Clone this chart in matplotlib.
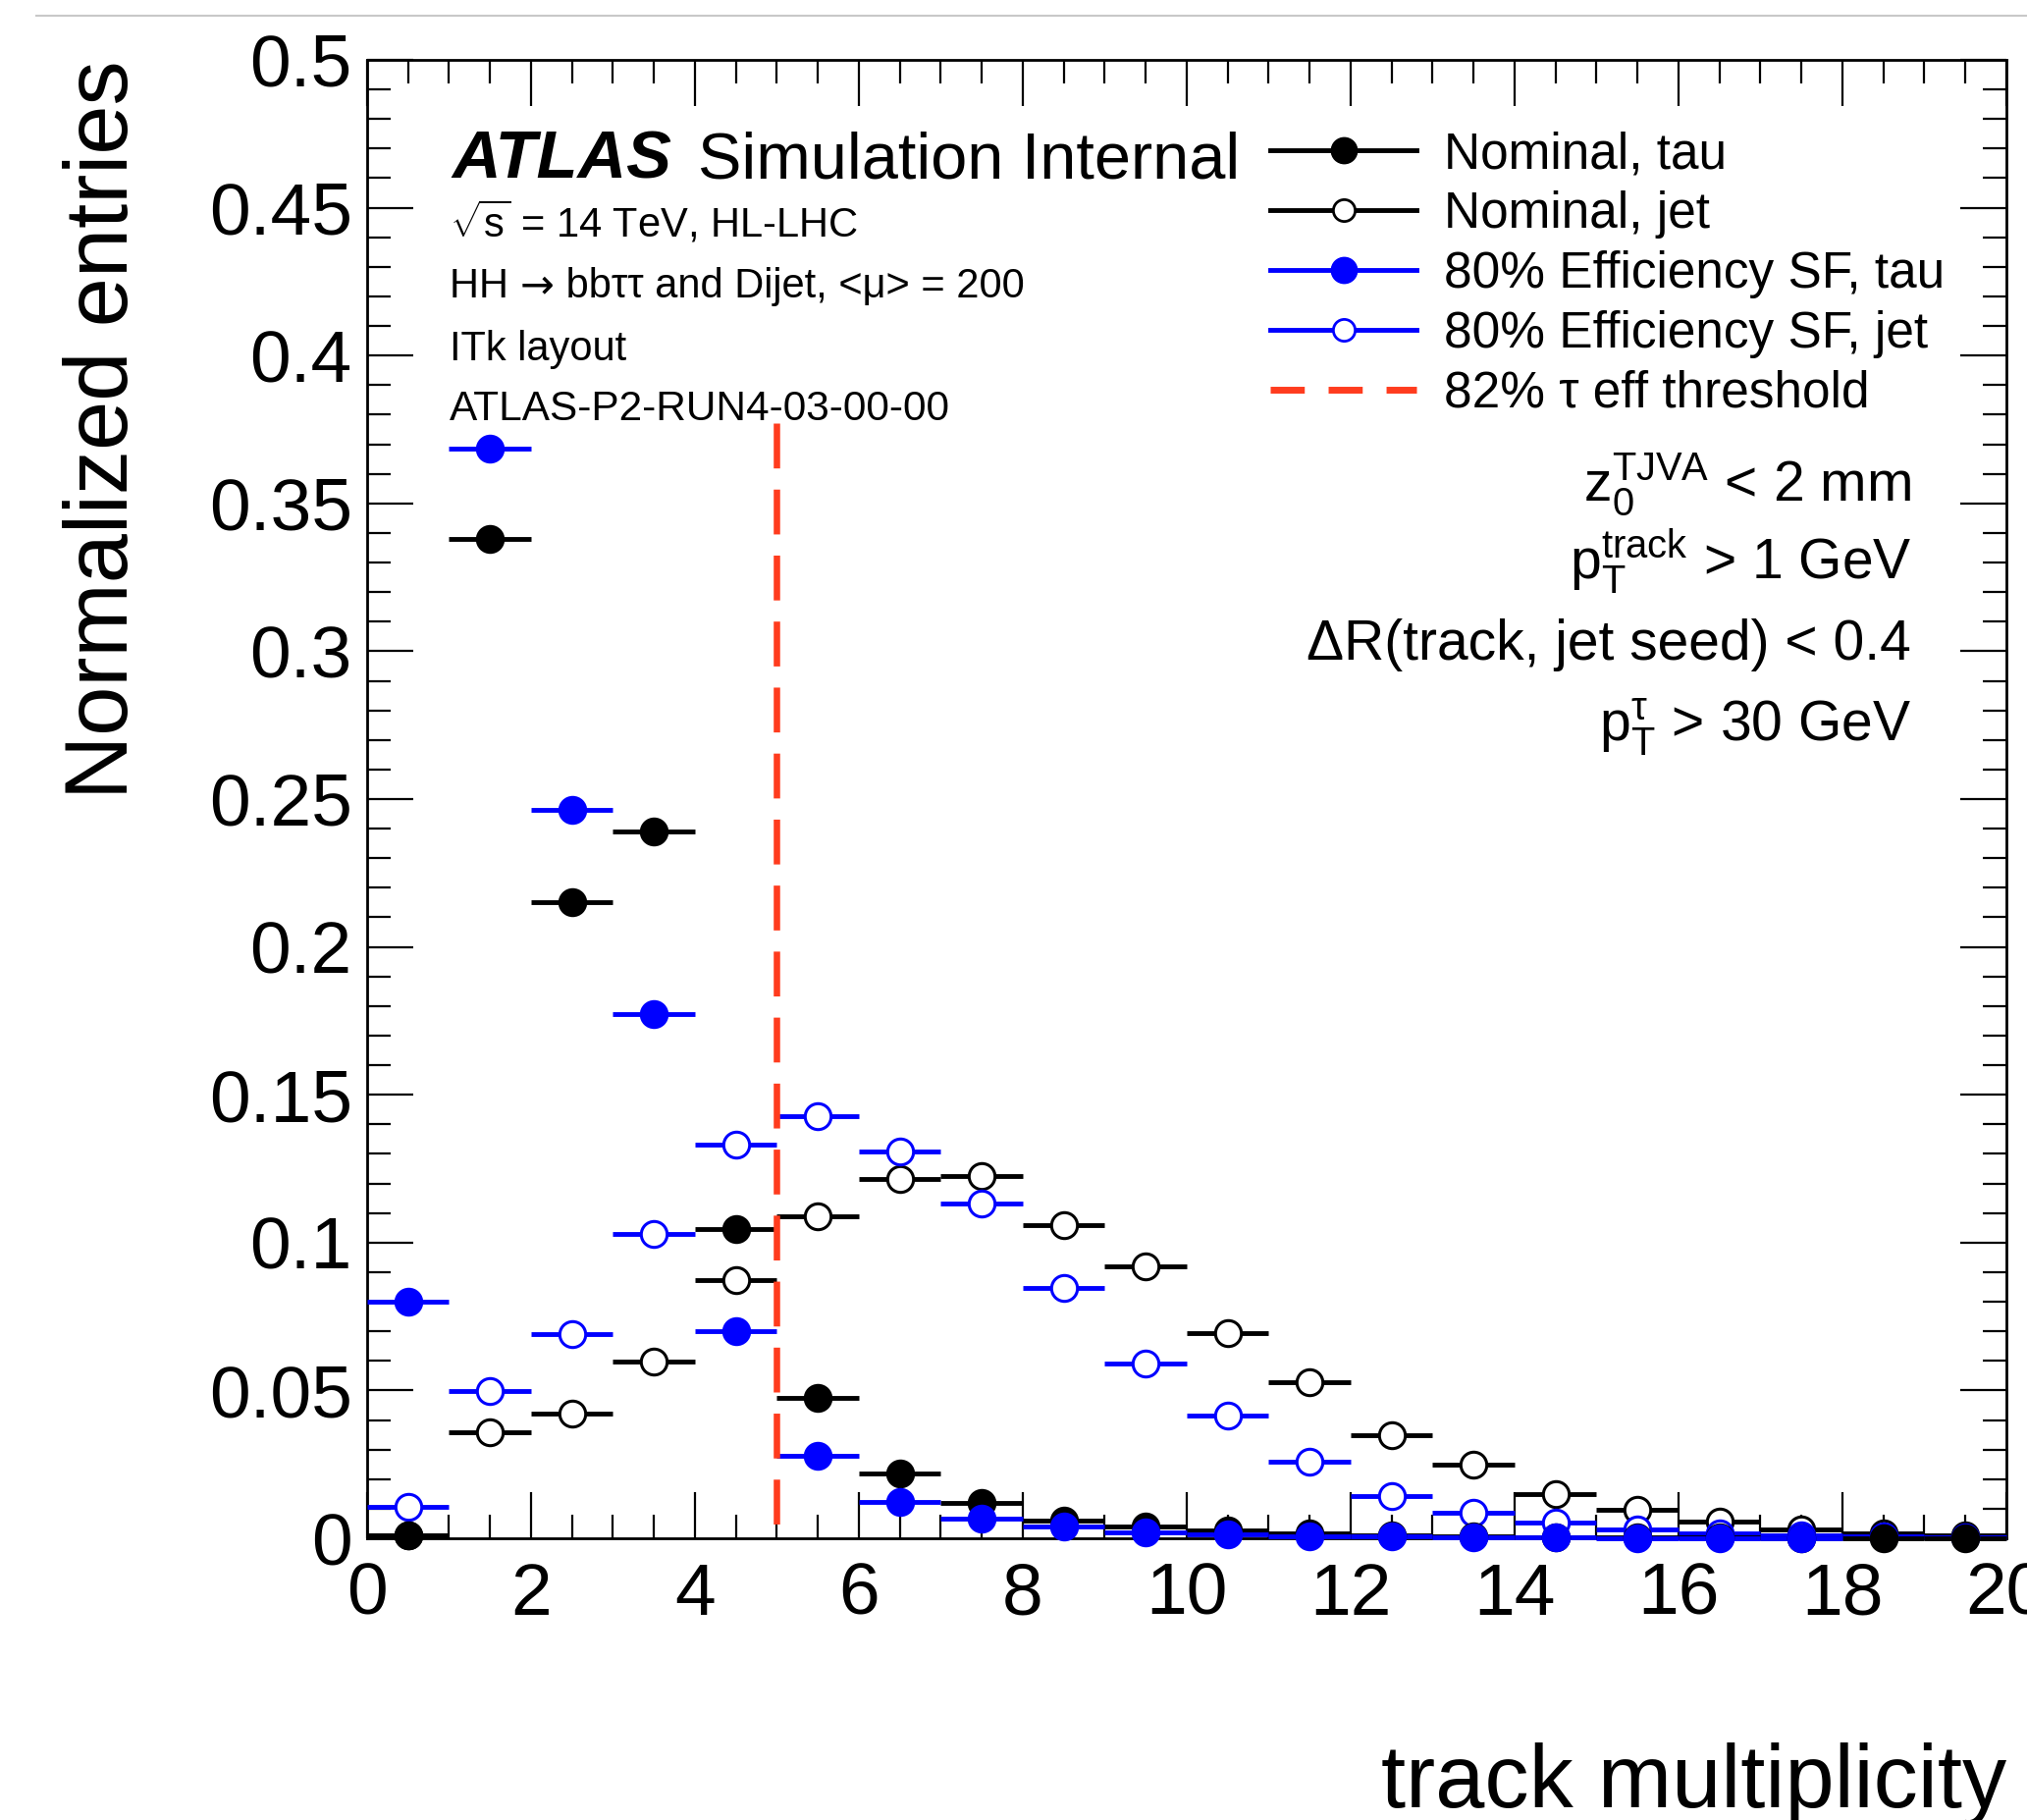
import numpy as np
import matplotlib
matplotlib.use('Agg')
import matplotlib.pyplot as plt
from matplotlib.lines import Line2D
from matplotlib.ticker import MultipleLocator, FuncFormatter

plt.rcParams['font.family'] = ['Liberation Sans', 'DejaVu Sans']
plt.rcParams['mathtext.fontset'] = 'custom'
plt.rcParams['mathtext.rm'] = 'Liberation Sans'
plt.rcParams['mathtext.it'] = 'Liberation Sans:italic'
plt.rcParams['mathtext.bf'] = 'Liberation Sans:bold'

# track multiplicity bins 0..20
bin_edges = np.arange(0, 21)
nominal_tau = [0.001, 0.338, 0.215, 0.239, 0.1045, 0.0476, 0.0219, 0.0118, 0.006, 0.004,
               0.0026, 0.0017, 0.001, 0.0006, 0.0004, 0.0003, 0.0002, 0.0001, 0.0001, 0.0001]
nominal_jet = [0.001, 0.0358, 0.042, 0.0599, 0.0874, 0.109, 0.1215, 0.1224, 0.1058, 0.0918,
               0.0695, 0.0529, 0.035, 0.0249, 0.0149, 0.0096, 0.0057, 0.003, 0.0017, 0.001]
sf_tau = [0.08, 0.3684, 0.2465, 0.1774, 0.07, 0.028, 0.0122, 0.0066, 0.004, 0.002,
          0.0013, 0.0008, 0.0005, 0.0003, 0.0002, 0.0001, 0.0001, 0.0001, 0.0, 0.0]
sf_jet = [0.0105, 0.0498, 0.069, 0.103, 0.1333, 0.1429, 0.1307, 0.1132, 0.0848, 0.059,
          0.0415, 0.0258, 0.0144, 0.0087, 0.0052, 0.003, 0.0017, 0.0009, 0.0005, 0.0003]
threshold_x = 5
threshold_top = 0.377

centers = 0.5 * (bin_edges[:-1] + bin_edges[1:])
half_w = 0.5 * np.diff(bin_edges)

red = '#ff3c1e'
blue = '#0000ff'

fig = plt.figure(figsize=(20.65, 18.54), dpi=100)
ax = fig.add_axes([0.1811, 0.1548, 0.8087, 0.8123])

series = {
    'Nominal, tau': (nominal_tau, 'k', 'k'),
    'Nominal, jet': (nominal_jet, 'k', 'white'),
    '80% Efficiency SF, tau': (sf_tau, blue, blue),
    '80% Efficiency SF, jet': (sf_jet, blue, 'white'),
}
# open markers underneath, filled ones on top
for lab in ['Nominal, jet', '80% Efficiency SF, jet', 'Nominal, tau', '80% Efficiency SF, tau']:
    vals, col, face = series[lab]
    vals = np.array(vals, dtype=float)
    keep = vals > 0  # empty bins are not drawn
    ax.errorbar(centers[keep], vals[keep], xerr=half_w[keep], fmt='o', color=col,
                mfc=face, mec=col, ms=19, mew=2.2, elinewidth=3.5, capsize=0,
                clip_on=False, zorder=3)

# dashed threshold, drawn from the top so the dash pattern starts there
ax.plot([threshold_x, threshold_x], [threshold_top, 0], color=red, lw=4.7,
        dashes=(7, 3.3), zorder=4)

ax.set_xlim(0, 20)
ax.set_ylim(0, 0.5)
ax.xaxis.set_major_locator(MultipleLocator(2))
ax.xaxis.set_minor_locator(MultipleLocator(0.5))
ax.yaxis.set_major_locator(MultipleLocator(0.05))
ax.yaxis.set_minor_locator(MultipleLocator(0.01))
ax.yaxis.set_major_formatter(FuncFormatter(lambda v, p: '%g' % round(v, 3)))
ax.tick_params(which='both', direction='in', top=True, right=True, width=1.6)
ax.tick_params(which='major', length=34, labelsize=54)
ax.tick_params(which='minor', length=17)
ax.tick_params(axis='x', pad=17)
ax.tick_params(axis='y', pad=11)
for s in ax.spines.values():
    s.set_linewidth(2)

ax.set_xlabel('track multiplicity', fontsize=65, loc='right')
ax.xaxis.set_label_coords(1.0, -0.138)
ax.set_ylabel('Normalized entries', fontsize=65, loc='top')
ax.yaxis.set_label_coords(-0.135, 1.0)

# ATLAS label
ax.text(0.052, 0.920, 'ATLAS', transform=ax.transAxes, fontsize=49.5,
        fontweight='bold', fontstyle='italic')
ax.text(0.202, 0.920, 'Simulation Internal', transform=ax.transAxes, fontsize=48)

ax.text(0.0505, 0.880, r'$\sqrt{\mathregular{s}}$ = 14 TeV, HL-LHC',
        transform=ax.transAxes, fontsize=30)
t_hh = ax.text(0.0505, 0.839, 'HH ', transform=ax.transAxes, fontsize=30)
t_arrow = ax.annotate('→', xy=(1, 0), xycoords=t_hh, va='bottom', fontsize=30,
                      family='DejaVu Sans')
ax.annotate(' bbττ and Dijet, <μ> = 200', xy=(1, 0), xycoords=(t_arrow, t_hh),
            va='bottom', fontsize=30)
ax.text(0.0505, 0.797, 'ITk layout', transform=ax.transAxes, fontsize=30)
ax.text(0.0505, 0.756, 'ATLAS-P2-RUN4-03-00-00', transform=ax.transAxes, fontsize=30.5)

cuts = [r'$\mathregular{z_{0}^{TJVA}}$ < 2 mm',
        r'$\mathregular{p_{T}^{track}}$ > 1 GeV',
        'ΔR(track, jet seed) < 0.4',
        r'$\mathregular{p_{T}^{\tau}}$ > 30 GeV']
for txt, yy in zip(cuts, [0.702, 0.649, 0.594, 0.540]):
    ax.text(0.942, yy, txt, transform=ax.transAxes, fontsize=41, ha='right')

handles = [
    Line2D([], [], color='k', marker='o', mfc='k', ms=19, lw=3.5),
    Line2D([], [], color='k', marker='o', mfc='white', ms=16, mew=2, lw=3.5),
    Line2D([], [], color=blue, marker='o', mfc=blue, ms=19, lw=3.5),
    Line2D([], [], color=blue, marker='o', mfc='white', ms=16, mew=2, lw=3.5),
    Line2D([], [], color=red, lw=5, dashes=(5, 3.5)),
]
labels = list(series.keys()) + ['82% τ eff threshold']
ax.legend(handles, labels, loc='upper left', bbox_to_anchor=(0.551, 0.952),
          fontsize=37, handlelength=2.9, handletextpad=0.55, labelspacing=0.23,
          frameon=False, borderaxespad=0, borderpad=0)

fig.add_artist(Line2D([0.018, 1.0], [1 - 16 / 1854] * 2, color='#c8c8c8', lw=1.5,
                      transform=fig.transFigure))

fig.savefig('out.png', dpi=100)
